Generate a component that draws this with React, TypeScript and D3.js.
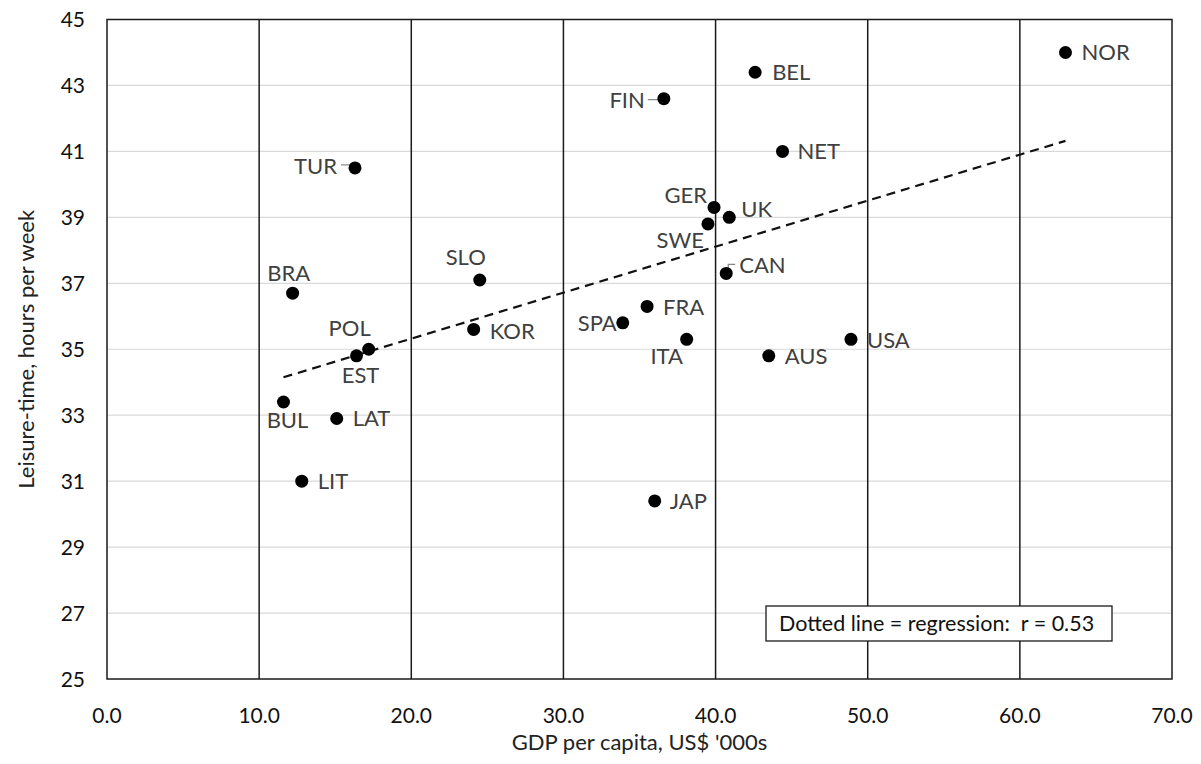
import React from "react";
import * as d3 from "d3";

// GDP per capita (US$ '000s) vs leisure time (hours per week)
const countries = ["NOR", "BEL", "FIN", "NET", "TUR", "GER", "UK", "SWE", "CAN", "BRA", "SLO", "FRA", "SPA", "KOR", "ITA", "USA", "AUS", "POL", "EST", "BUL", "LAT", "LIT", "JAP"];
const gdp = [63.0, 42.6, 36.6, 44.4, 16.3, 39.9, 40.9, 39.5, 40.7, 12.2, 24.5, 35.5, 33.9, 24.1, 38.1, 48.9, 43.5, 17.2, 16.4, 11.6, 15.1, 12.8, 36.0];
const leisure = [44.0, 43.4, 42.6, 41.0, 40.5, 39.3, 39.0, 38.8, 37.3, 36.7, 37.1, 36.3, 35.8, 35.6, 35.3, 35.3, 34.8, 35.0, 34.8, 33.4, 32.9, 31.0, 30.4];
const regressionX = [11.6, 63.0];
const regressionY = [34.15, 41.32];
const xTicks = [0, 10, 20, 30, 40, 50, 60, 70];
const yTicks = [25, 27, 29, 31, 33, 35, 37, 39, 41, 43, 45];
const note = "Dotted line = regression:  r = 0.53";

// label placement relative to each point: [dx, dy, anchor]
const labelPos: Record<string, [number, number, string]> = {
  NOR: [16, 8, "start"], BEL: [17, 8, "start"], FIN: [-19, 9, "end"], NET: [15, 8, "start"],
  TUR: [-18, 6, "end"], GER: [-7, -4, "end"], UK: [12, 0, "start"], SWE: [-4, 24, "end"],
  CAN: [13, 0, "start"], BRA: [-4, -12, "middle"], SLO: [-14, -15, "middle"], FRA: [16, 9, "start"],
  SPA: [-6, 8, "end"], KOR: [16, 10, "start"], ITA: [-20, 25, "middle"], USA: [16, 9, "start"],
  AUS: [16, 8, "start"], POL: [-19, -13, "middle"], EST: [4, 27, "middle"], BUL: [4, 26, "middle"],
  LAT: [16, 8, "start"], LIT: [16, 8, "start"], JAP: [15, 8, "start"],
};

const W = 1201;
const H = 764;
const margin = { left: 107, right: 29, top: 19.5, bottom: 85 };
const font = "Lato, 'Open Sans', sans-serif";

export default function App() {
  const x = d3.scaleLinear().domain([0, 70]).range([margin.left, W - margin.right]);
  const y = d3.scaleLinear().domain([25, 45]).range([H - margin.bottom, margin.top]);
  const [x0, x1] = x.range();
  const [y0, y1] = y.range();

  return (
    <svg width={W} height={H} style={{ position: "absolute", left: 0, top: 0, background: "#fff" }} fontFamily={font}>
      {yTicks.slice(1, -1).map((t) => (
        <line key={"h" + t} x1={x0} x2={x1} y1={y(t)} y2={y(t)} stroke="#d9d9d9" strokeWidth={1.2} />
      ))}
      {xTicks.slice(1, -1).map((t) => (
        <line key={"v" + t} x1={x(t)} x2={x(t)} y1={y0} y2={y1} stroke="#1a1a1a" strokeWidth={1.5} />
      ))}
      <rect x={x0} y={y1} width={x1 - x0} height={y0 - y1} fill="none" stroke="#1a1a1a" strokeWidth={1.5} />

      {yTicks.map((t) => (
        <text key={"yt" + t} x={x0 - 22} y={y(t) + 7.5} textAnchor="end" fontSize={21} fill="#111">{t}</text>
      ))}
      {xTicks.map((t) => (
        <text key={"xt" + t} x={x(t)} y={y0 + 44} textAnchor="middle" fontSize={21} fill="#111">{t.toFixed(1)}</text>
      ))}
      <text x={(x0 + x1) / 2} y={H - 14} textAnchor="middle" fontSize={22} fill="#222">GDP per capita, US$ '000s</text>
      <text transform={`translate(34,${(y0 + y1) / 2}) rotate(-90)`} textAnchor="middle" fontSize={22} fill="#222">
        Leisure-time, hours per week
      </text>

      <line
        x1={x(regressionX[0])} y1={y(regressionY[0])} x2={x(regressionX[1])} y2={y(regressionY[1])}
        stroke="#111" strokeWidth={2.2} strokeDasharray="9,6"
      />

      {/* leader lines */}
      <path d={`M${x(gdp[2]) - 16},${y(leisure[2]) + 1}H${x(gdp[2]) - 4}`} stroke="#888" strokeWidth={1.2} />
      <path d={`M${x(gdp[4]) - 14},${y(leisure[4]) - 3}H${x(gdp[4]) - 4}`} stroke="#888" strokeWidth={1.2} />
      <path d={`M${x(gdp[8]) + 2},${y(leisure[8]) - 4}V${y(leisure[8]) - 9}H${x(gdp[8]) + 9}`} fill="none" stroke="#888" strokeWidth={1.2} />

      {countries.map((c, i) => {
        const [dx, dy, anchor] = labelPos[c];
        return (
          <g key={c}>
            <circle cx={x(gdp[i])} cy={y(leisure[i])} r={6.5} fill="#000" />
            <text x={x(gdp[i]) + dx} y={y(leisure[i]) + dy} textAnchor={anchor as any} fontSize={22} fill="#404040">{c}</text>
          </g>
        );
      })}

      <rect x={766} y={606} width={346} height={35} fill="#fff" stroke="#1a1a1a" strokeWidth={1.3} />
      <text x={779} y={631} fontSize={21.5} fill="#111" style={{ whiteSpace: "pre" }}>{note}</text>
    </svg>
  );
}
